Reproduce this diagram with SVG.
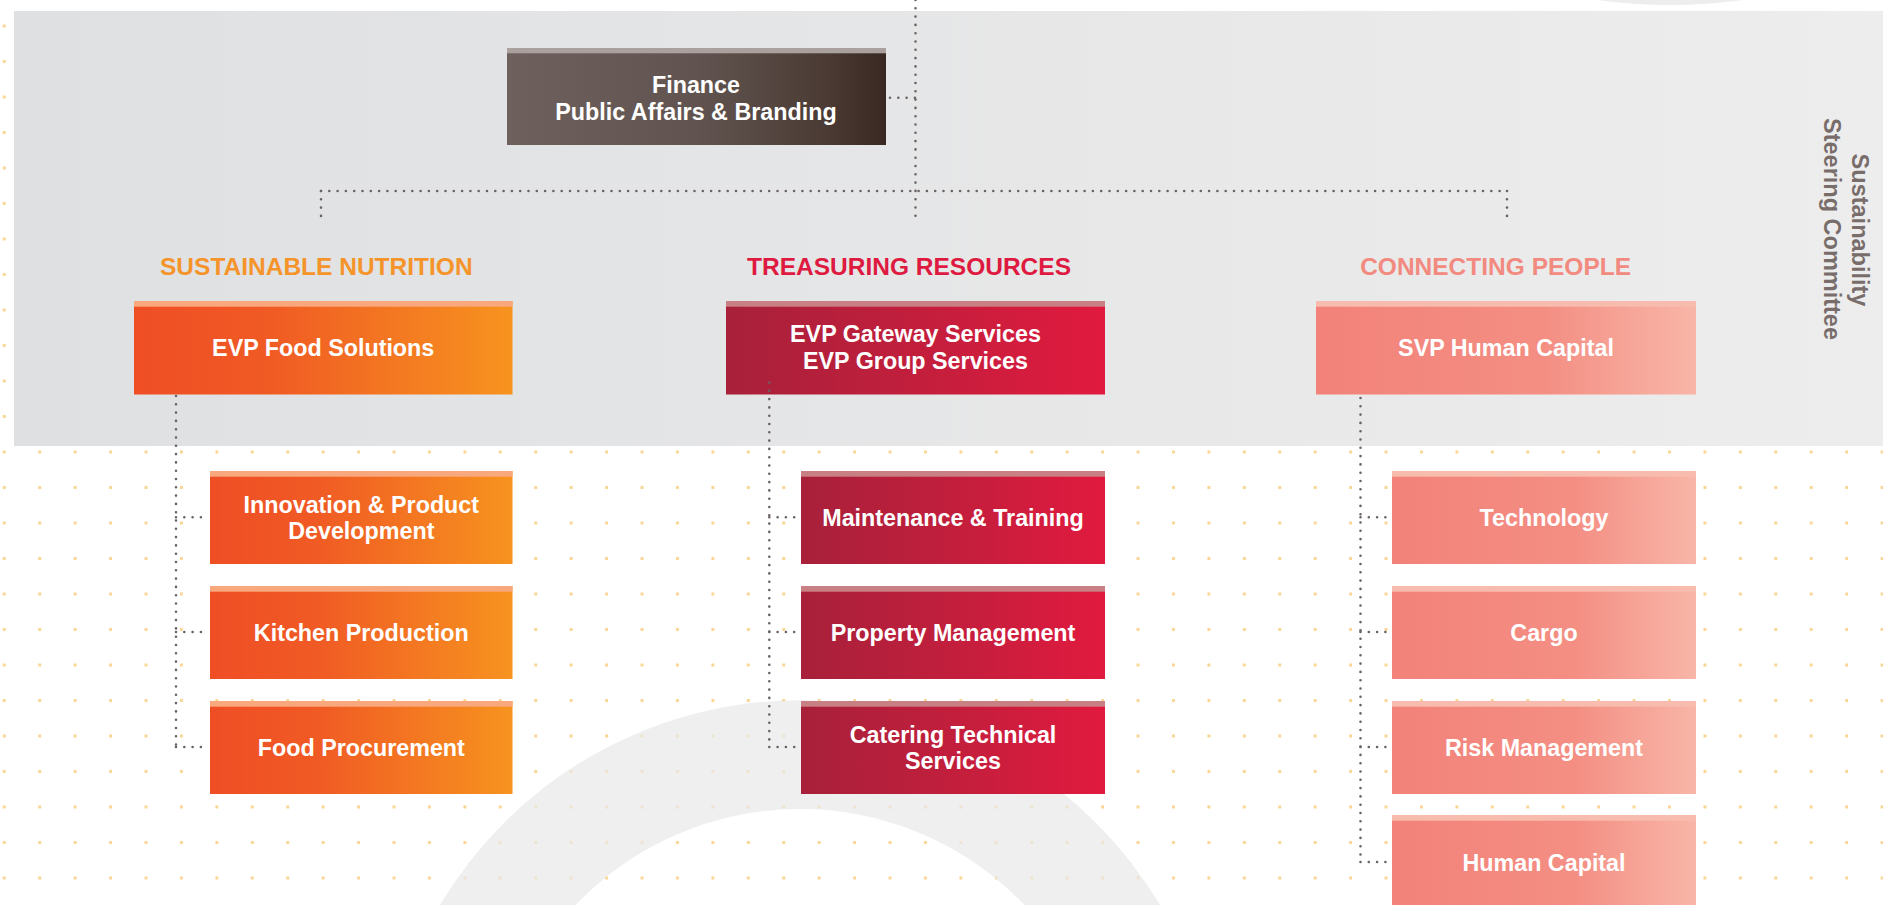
<svg xmlns="http://www.w3.org/2000/svg" width="1883" height="905" viewBox="0 0 1883 905">
<defs>
<style>
.t{font-family:"Liberation Sans",Arial,Helvetica,sans-serif;font-weight:bold;font-size:23.3px;fill:#ffffff;text-anchor:middle}
.h{font-family:"Liberation Sans",Arial,Helvetica,sans-serif;font-weight:bold;font-size:24.5px;text-anchor:middle}
.side{font-family:"Liberation Sans",Arial,Helvetica,sans-serif;font-weight:bold;font-size:23.5px;fill:#786d6a;text-anchor:middle}
.c{fill:none;stroke:#6b6265;stroke-width:2.6;stroke-linecap:round;stroke-dasharray:0 8.3}
.so{fill:#f9a87d}
.sr{fill:#c98084}
.ss{fill:#f8bcae}
.sb{fill:#aaa09e}
</style>
<pattern id="dots" x="2.8" y="24.5" width="35.43" height="35.5" patternUnits="userSpaceOnUse">
<rect width="3" height="3" fill="#f9d695"/>
</pattern>
<linearGradient id="gBand" x1="0" y1="0" x2="1" y2="0">
<stop offset="0" stop-color="#dfe0e2"/>
<stop offset="1" stop-color="#ededed"/>
</linearGradient>
<linearGradient id="gBrown" x1="0" y1="0" x2="1" y2="0">
<stop offset="0" stop-color="#6e615d"/>
<stop offset="0.5" stop-color="#615450"/>
<stop offset="0.85" stop-color="#4a3a33"/>
<stop offset="1" stop-color="#3a2822"/>
</linearGradient>
<linearGradient id="gOrange" x1="0" y1="0" x2="1" y2="0">
<stop offset="0" stop-color="#ef4e25"/>
<stop offset="0.35" stop-color="#f05a24"/>
<stop offset="1" stop-color="#f7931f"/>
</linearGradient>
<linearGradient id="gRed" x1="0" y1="0" x2="1" y2="0">
<stop offset="0" stop-color="#a8203a"/>
<stop offset="0.45" stop-color="#bf1f3c"/>
<stop offset="1" stop-color="#e11a3f"/>
</linearGradient>
<linearGradient id="gSalmon" x1="0" y1="0" x2="1" y2="0">
<stop offset="0" stop-color="#f2827a"/>
<stop offset="0.6" stop-color="#f48e83"/>
<stop offset="1" stop-color="#f8b6a8"/>
</linearGradient>
</defs>

<rect x="0" y="0" width="1883" height="905" fill="#ffffff"/>
<rect x="0" y="0" width="1883" height="905" fill="url(#dots)"/>
<circle cx="800" cy="1119" r="364.4" fill="none" stroke="#e8e8e8" stroke-width="108.7" opacity="0.7"/>
<path d="M1597,0 Q1670,10 1743,0 Z" fill="#ededed"/>
<rect x="14" y="11" width="1869" height="435" fill="url(#gBand)"/>

<g id="sideLabel">
<text class="side" transform="translate(1852,230) rotate(90)">Sustainability</text>
<text class="side" transform="translate(1824,229) rotate(90)">Steering Committee</text>
</g>

<g id="headers">
<text class="h" x="316.3" y="275" fill="#f4942a">SUSTAINABLE NUTRITION</text>
<text class="h" x="909" y="275" fill="#de1a40">TREASURING RESOURCES</text>
<text class="h" x="1495.6" y="275" fill="#f28a80">CONNECTING PEOPLE</text>
</g>

<g id="finance">
<rect x="507" y="48" width="379" height="97" fill="url(#gBrown)"/>
<rect class="sb" x="507" y="48" width="379" height="5.3"/>
<text class="t" x="696" y="93.3">Finance</text>
<text class="t" x="696" y="120">Public Affairs &amp; Branding</text>
</g>

<g id="evpFood">
<rect x="134" y="301" width="378.5" height="93.5" fill="url(#gOrange)"/>
<rect class="so" x="134" y="301" width="378.5" height="5.7"/>
<text class="t" x="323.2" y="356.4">EVP Food Solutions</text>
</g>

<g id="evpGateway">
<rect x="726" y="301" width="379" height="93.5" fill="url(#gRed)"/>
<rect class="sr" x="726" y="301" width="379" height="5.7"/>
<text class="t" x="915.5" y="342.3">EVP Gateway Services</text>
<text class="t" x="915.5" y="369.3">EVP Group Services</text>
</g>

<g id="svpHumanCapital">
<rect x="1316" y="301" width="380" height="93.5" fill="url(#gSalmon)"/>
<rect class="ss" x="1316" y="301" width="380" height="5.7"/>
<text class="t" x="1506" y="356.4">SVP Human Capital</text>
</g>

<g id="innovation">
<rect x="210" y="471" width="302.5" height="93" fill="url(#gOrange)"/>
<rect class="so" x="210" y="471" width="302.5" height="5.7"/>
<text class="t" x="361.3" y="512.5">Innovation &amp; Product</text>
<text class="t" x="361.3" y="539">Development</text>
</g>
<g id="kitchen">
<rect x="210" y="586" width="302.5" height="93" fill="url(#gOrange)"/>
<rect class="so" x="210" y="586" width="302.5" height="5.7"/>
<text class="t" x="361.3" y="641">Kitchen Production</text>
</g>
<g id="foodProcurement">
<rect x="210" y="701" width="302.5" height="93" fill="url(#gOrange)"/>
<rect class="so" x="210" y="701" width="302.5" height="5.7"/>
<text class="t" x="361.3" y="756">Food Procurement</text>
</g>

<g id="maintenance">
<rect x="801" y="471" width="304" height="93" fill="url(#gRed)"/>
<rect class="sr" x="801" y="471" width="304" height="5.7"/>
<text class="t" x="953" y="526">Maintenance &amp; Training</text>
</g>
<g id="property">
<rect x="801" y="586" width="304" height="93" fill="url(#gRed)"/>
<rect class="sr" x="801" y="586" width="304" height="5.7"/>
<text class="t" x="953" y="641">Property Management</text>
</g>
<g id="catering">
<rect x="801" y="701" width="304" height="93" fill="url(#gRed)"/>
<rect class="sr" x="801" y="701" width="304" height="5.7"/>
<text class="t" x="953" y="742.5">Catering Technical</text>
<text class="t" x="953" y="769">Services</text>
</g>

<g id="technology">
<rect x="1392" y="471" width="304" height="93" fill="url(#gSalmon)"/>
<rect class="ss" x="1392" y="471" width="304" height="5.7"/>
<text class="t" x="1544" y="526">Technology</text>
</g>
<g id="cargo">
<rect x="1392" y="586" width="304" height="93" fill="url(#gSalmon)"/>
<rect class="ss" x="1392" y="586" width="304" height="5.7"/>
<text class="t" x="1544" y="641">Cargo</text>
</g>
<g id="risk">
<rect x="1392" y="701" width="304" height="93" fill="url(#gSalmon)"/>
<rect class="ss" x="1392" y="701" width="304" height="5.7"/>
<text class="t" x="1544" y="756">Risk Management</text>
</g>
<g id="humanCapital">
<rect x="1392" y="815" width="304" height="93" fill="url(#gSalmon)"/>
<rect class="ss" x="1392" y="815" width="304" height="5.7"/>
<text class="t" x="1544" y="870.5">Human Capital</text>
</g>

<g id="connectors">
<path class="c" d="M915.5,0 V219"/>
<path class="c" d="M890,97.7 H915.5"/>
<path class="c" d="M321,191 H1507"/>
<path class="c" d="M321,191 V219"/>
<path class="c" d="M1507,191 V219"/>
<path class="c" d="M176,396 V747"/>
<path class="c" d="M176,517.3 H205"/>
<path class="c" d="M176,632 H205"/>
<path class="c" d="M176,747 H205"/>
<path class="c" d="M769.3,382.5 V747"/>
<path class="c" d="M769.3,517.3 H798"/>
<path class="c" d="M769.3,632 H798"/>
<path class="c" d="M769.3,747 H798"/>
<path class="c" d="M1360.5,398 V862"/>
<path class="c" d="M1360.5,517.3 H1389"/>
<path class="c" d="M1360.5,632 H1389"/>
<path class="c" d="M1360.5,747 H1389"/>
<path class="c" d="M1360.5,862 H1389"/>
</g>
</svg>
